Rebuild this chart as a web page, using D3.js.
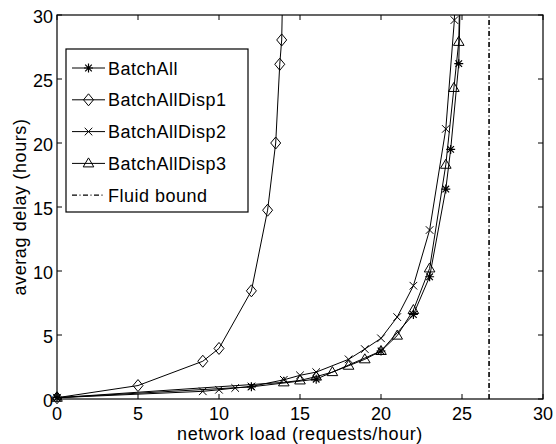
<!DOCTYPE html>
<html><head><meta charset="utf-8">
<script src="https://cdn.jsdelivr.net/npm/d3@7/dist/d3.min.js"></script>
<style>body{margin:0;background:#fff}svg{display:block}text{font-family:"Liberation Sans",Arial,Helvetica,sans-serif;fill:#000}</style>
</head><body><svg id="c" width="556" height="444"></svg>
<script>
const xTicks = [0,5,10,15,20,25,30];
const yTicks = [0,5,10,15,20,25,30];
const seriesNames = ["BatchAll","BatchAllDisp1","BatchAllDisp2","BatchAllDisp3"];
const markers = ["star","diamond","x","triangle"];
const batchAll = [[0,0.1],[12,0.95],[16,1.55],[20,3.75],[22,6.6],[23,9.55],[24,16.4],[24.3,19.5],[24.8,26.2],[25.05,40]];
const batchAllDisp1 = [[0,0.1],[5,1.05],[9,2.95],[10,3.95],[12,8.45],[13,14.75],[13.5,20],[13.75,26.15],[13.87,28.05],[14.05,40]];
const batchAllDisp2 = [[0,0.1],[9,0.6],[10,0.72],[11,0.86],[12,0.98],[14,1.5],[15,1.85],[16,2.1],[18,3.1],[19,3.9],[20,4.74],[21,6.4],[22,8.85],[23,13.2],[24,21.1],[24.53,29.6],[24.65,40]];
const batchAllDisp3 = [[0,0.1],[14,1.3],[15,1.45],[16,1.75],[17,2.1],[18,2.6],[19,3.1],[20,3.75],[21,4.95],[22,6.95],[23,10.2],[24,18.3],[24.5,24.3],[24.8,27.9],[25.0,40]];
const fluidBound = 26.67;
const xLabel = "network load (requests/hour)";
const yLabel = "averag delay (hours)";
const allSeries = [batchAll,batchAllDisp1,batchAllDisp2,batchAllDisp3];

const svg = d3.select("#c");
const L=57,R=543,T=15,B=399;
const x = d3.scaleLinear().domain([0,30]).range([L,R]);
const y = d3.scaleLinear().domain([0,30]).range([B,T]);

svg.append("defs").append("clipPath").attr("id","clip").append("rect")
  .attr("x",L).attr("y",T).attr("width",R-L).attr("height",B-T);

function markerPath(type){
  const p = d3.path();
  if(type==="star"){const s=4.5,d=3.3;p.moveTo(-s,0);p.lineTo(s,0);p.moveTo(0,-s);p.lineTo(0,s);p.moveTo(-d,-d);p.lineTo(d,d);p.moveTo(-d,d);p.lineTo(d,-d);}
  else if(type==="diamond"){p.moveTo(0,-6);p.lineTo(5,0);p.lineTo(0,6);p.lineTo(-5,0);p.closePath();}
  else if(type==="x"){const s=3.8;p.moveTo(-s,-s);p.lineTo(s,s);p.moveTo(-s,s);p.lineTo(s,-s);}
  else if(type==="triangle"){p.moveTo(0,-5.5);p.lineTo(5.3,3.5);p.lineTo(-5.3,3.5);p.closePath();}
  return p.toString();
}

const line = d3.line().x(d=>x(d[0])).y(d=>y(d[1]));
const plot = svg.append("g").attr("clip-path","url(#clip)");
allSeries.forEach((s,i)=>{
  plot.append("path").attr("d",line(s)).attr("fill","none").attr("stroke","#000").attr("stroke-width",1);
});
allSeries.forEach((s,i)=>{
  svg.append("g").selectAll("path").data(s.filter(d=>d[1]<=30)).join("path")
    .attr("transform",d=>`translate(${x(d[0])},${y(d[1])})`)
    .attr("d",markerPath(markers[i])).attr("fill","none").attr("stroke","#000").attr("stroke-width",i===0?1.2:1);
});
// fluid bound
svg.append("line").attr("x1",x(fluidBound)).attr("x2",x(fluidBound)).attr("y1",y(0)).attr("y2",y(30))
  .attr("stroke","#000").attr("stroke-width",1.6).attr("stroke-dasharray","5,2.5,1,2.5");

// axes box
svg.append("rect").attr("x",L).attr("y",T).attr("width",R-L).attr("height",B-T).attr("fill","none").attr("stroke","#000").attr("stroke-width",1.2);
const tl=5;
const ax = svg.append("g");
xTicks.forEach(t=>{
  ax.append("line").attr("x1",x(t)).attr("x2",x(t)).attr("y1",B).attr("y2",B-tl).attr("stroke","#000");
  ax.append("line").attr("x1",x(t)).attr("x2",x(t)).attr("y1",T).attr("y2",T+tl).attr("stroke","#000");
  ax.append("text").attr("x",x(t)).attr("y",420).attr("text-anchor","middle").style("font-size","18px").text(t);
});
yTicks.forEach(t=>{
  ax.append("line").attr("x1",L).attr("x2",L+tl).attr("y1",y(t)).attr("y2",y(t)).attr("stroke","#000");
  ax.append("line").attr("x1",R).attr("x2",R-tl).attr("y1",y(t)).attr("y2",y(t)).attr("stroke","#000");
  ax.append("text").attr("x",L-4).attr("y",y(t)+7.5).attr("text-anchor","end").style("font-size","18px").text(t);
});
svg.append("text").attr("x",(L+R)/2).attr("y",440).attr("text-anchor","middle").style("font-size","18px").style("letter-spacing","0.6px").text(xLabel);
svg.append("text").attr("transform",`translate(26,${(T+B)/2}) rotate(-90)`).attr("text-anchor","middle").style("font-size","18px").style("letter-spacing","0.6px").text(yLabel);

// legend
const lg = svg.append("g");
lg.append("rect").attr("x",66).attr("y",49).attr("width",182).attr("height",163).attr("fill","#fff").attr("stroke","#000").attr("stroke-width",1.2);
const names = seriesNames.concat(["Fluid bound"]);
names.forEach((n,i)=>{
  const yy = 68 + i*31.8;
  const ln = lg.append("line").attr("x1",72).attr("x2",105).attr("y1",yy).attr("y2",yy).attr("stroke","#000");
  if(i<4){
    lg.append("path").attr("transform",`translate(88.5,${yy})`).attr("d",markerPath(markers[i])).attr("fill","none").attr("stroke","#000").attr("stroke-width",i===0?1.2:1);
  } else {
    ln.attr("stroke-dasharray","5,2.5,1,2.5").attr("stroke-width",1.3);
  }
  lg.append("text").attr("x",108).attr("y",yy+6.5).style("font-size","18px").style("letter-spacing","0.5px").text(n);
});
</script></body></html>
